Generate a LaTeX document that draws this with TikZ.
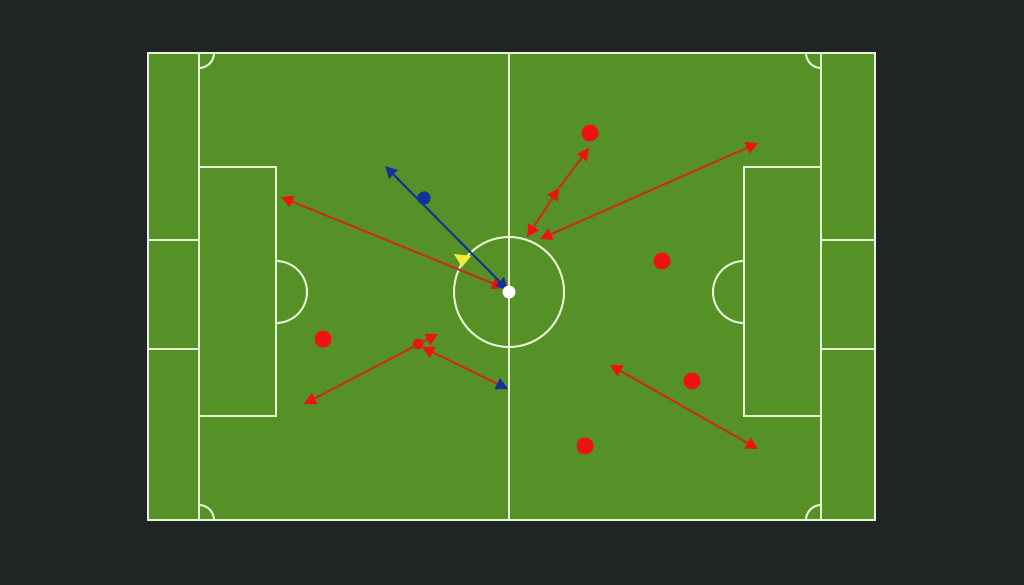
\documentclass[tikz,border=0pt]{standalone}
\usetikzlibrary{arrows.meta}
\definecolor{bg}{RGB}{32,38,38}
\definecolor{pitch}{RGB}{86,145,40}
\definecolor{chalk}{RGB}{232,245,210}
\definecolor{redp}{RGB}{238,18,18}
\definecolor{redl}{RGB}{200,45,25}
\definecolor{bluep}{RGB}{18,52,150}
\definecolor{yel}{RGB}{245,235,60}
\tikzset{
  chalkline/.style={draw=chalk,line width=2pt},
  player/.style={circle,fill=redp,inner sep=0pt,minimum size=17pt},
  bluedot/.style={circle,fill=bluep,inner sep=0pt,minimum size=13pt},
  balldot/.style={circle,fill=white,inner sep=0pt,minimum size=13pt},
  redarrow/.style={draw=redl,line width=2pt,{Triangle[length=12pt,width=12pt,fill=redp,color=redp]}-{Triangle[length=12pt,width=12pt,fill=redp,color=redp]}},
  redhead/.style={draw=redl,line width=2pt,-{Triangle[length=12pt,width=12pt,fill=redp,color=redp]}},
  bluearrow/.style={draw=bluep,line width=2pt,{Triangle[length=12pt,width=12pt]}-{Triangle[length=12pt,width=12pt]}},
}
\begin{document}
\begin{tikzpicture}[x=1pt,y=-1pt]
\fill[bg] (0,0) rectangle (1024,585);
\useasboundingbox (0,0) rectangle (1024,585);
\fill[pitch] (148,53) rectangle (875,520);
% markings
\draw[chalkline] (148,53) rectangle (875,520);
\draw[chalkline] (509,53) -- (509,520);
\draw[chalkline] (509,292) circle[radius=55];
\draw[chalkline] (199,53) -- (199,520);
\draw[chalkline] (821,53) -- (821,520);
\draw[chalkline] (199,167) rectangle (276,416);
\draw[chalkline] (744,167) rectangle (821,416);
\draw[chalkline] (148,240) -- (199,240);
\draw[chalkline] (148,349) -- (199,349);
\draw[chalkline] (821,240) -- (875,240);
\draw[chalkline] (821,349) -- (875,349);
\draw[chalkline] (276,261) arc[start angle=-90,end angle=90,radius=31];
\draw[chalkline] (744,261) arc[start angle=270,end angle=90,radius=31];
\draw[chalkline] (214,53) arc[start angle=0,end angle=90,radius=15];
\draw[chalkline] (199,505) arc[start angle=-90,end angle=0,radius=15];
\draw[chalkline] (821,68) arc[start angle=90,end angle=180,radius=15];
\draw[chalkline] (806,520) arc[start angle=180,end angle=270,radius=15];
% players
\node[player] (p1) at (590,133) {};
\node[player] (p2) at (662,261) {};
\node[player] (p3) at (692,381) {};
\node[player] (p4) at (585,446) {};
\node[player] (p5) at (323,339) {};
\node[player,minimum size=11pt] (p6) at (418,344) {};
\node[bluedot] (b1) at (424,198) {};
% coordinates
\coordinate (a1) at (281,197);
\coordinate (a2) at (504,288);
\coordinate (c1) at (385,166);
\coordinate (c2) at (508,290);
\coordinate (d1) at (527,237);
\coordinate (d2) at (559,188);
\coordinate (d3) at (589,148);
\coordinate (e1) at (540,239);
\coordinate (e2) at (758,143);
\coordinate (f1) at (610,365);
\coordinate (f2) at (758,449);
\coordinate (g1) at (304,404);
\coordinate (g2) at (438,334);
\coordinate (h1) at (422,347);
\coordinate (h2) at (508,389);
% arrows
\draw[redarrow] (a1) -- (a2);
\fill[yel] (454,254) -- (471,256) -- (462,267) -- cycle;
\draw[redarrow] (d1) -- (d2);
\draw[redhead] (d2) -- (d3);
\draw[redarrow] (e1) -- (e2);
\draw[redarrow] (f1) -- (f2);
\draw[redarrow] (g1) -- (g2);
\draw[draw=redl,line width=2pt,{Triangle[length=12pt,width=12pt,fill=redp,color=redp]}-{Triangle[length=12pt,width=12pt,color=bluep]}] (h1) -- (h2);
\draw[bluearrow] (c1) -- (c2);
\node[bluedot] at (b1) {};
\node[balldot] (ball) at (509,292) {};
\end{tikzpicture}
\end{document}
